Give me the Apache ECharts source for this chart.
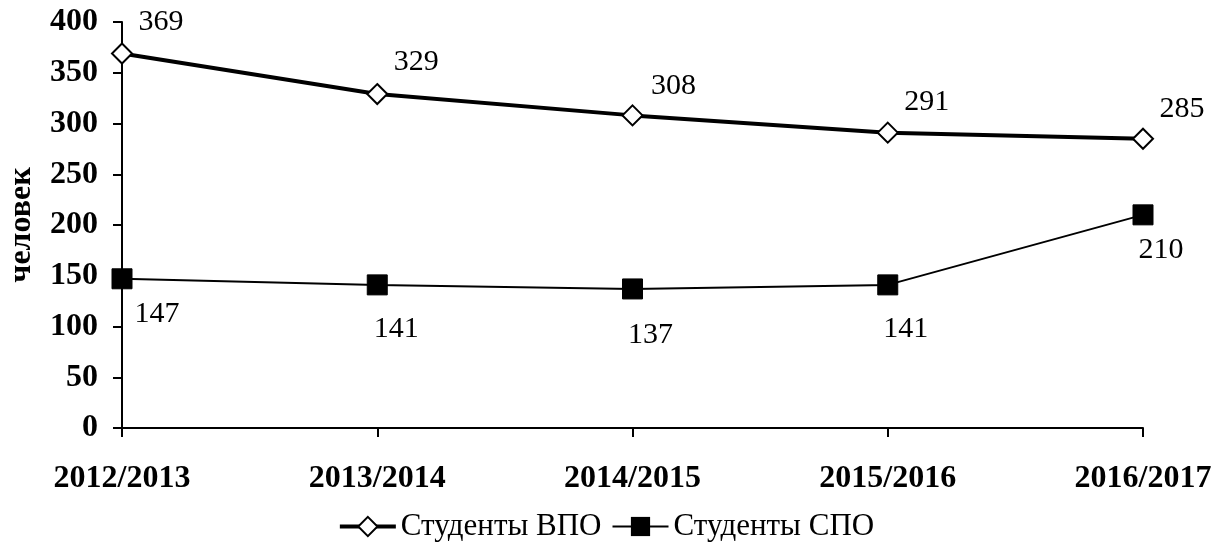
<!DOCTYPE html>
<html><head><meta charset="utf-8">
<script src="https://cdn.jsdelivr.net/npm/echarts@6/dist/echarts.min.js"></script>
<style>html,body{margin:0;padding:0;background:#fff}#c{width:1212px;height:551px}</style>
</head><body><div id="c"></div>
<script>
const categories = ['2012/2013','2013/2014','2014/2015','2015/2016','2016/2017'];
const vpo = [369, 329, 308, 291, 285];
const spo = [147, 141, 137, 141, 210];
const yTicks = [0, 50, 100, 150, 200, 250, 300, 350, 400];

const FONT = '"Liberation Serif", "Times New Roman", serif';
const vpoOffsets = [[39,0],[39,-1],[41,2],[39,0],[39,1]];
const spoOffsets = [[35,-2],[19,7],[18,9],[18,7],[18,-2]];

const chart = echarts.init(document.getElementById('c'));
chart.setOption({
  animation: false,
  textStyle: {fontFamily: FONT, color: '#000'},
  grid: {left: 122, right: 69, top: 22, bottom: 123, containLabel: false, outerBoundsMode: 'none'},
  legend: {
    bottom: 4, left: 'center', itemWidth: 56, itemHeight: 24, itemGap: 10,
    textStyle: {fontFamily: FONT, fontSize: 31, color: '#000'},
    data: [
      {name: 'Студенты ВПО', lineStyle: {width: 4, color: '#000'}},
      {name: 'Студенты СПО', lineStyle: {width: 2, color: '#000'}}
    ]
  },
  xAxis: {
    type: 'category', data: categories, boundaryGap: false,
    axisLine: {lineStyle: {color: '#000', width: 2}},
    axisTick: {show: true, alignWithLabel: true, length: 9, lineStyle: {color: '#000', width: 2}},
    axisLabel: {fontFamily: FONT, fontSize: 32, fontWeight: 'bold', color: '#000', margin: 35}
  },
  yAxis: {
    type: 'value', min: yTicks[0], max: yTicks[yTicks.length-1], interval: 50,
    name: 'человек', nameLocation: 'middle', nameGap: 84, nameRotate: 90,
    nameTextStyle: {fontFamily: FONT, fontSize: 32, fontWeight: 'bold', color: '#000'},
    axisLine: {show: true, lineStyle: {color: '#000', width: 2}},
    axisTick: {show: true, length: 9, lineStyle: {color: '#000', width: 2}},
    splitLine: {show: false},
    axisLabel: {fontFamily: FONT, fontSize: 32, fontWeight: 'bold', color: '#000', margin: 24}
  },
  series: [
    {
      name: 'Студенты ВПО', type: 'line',
      data: vpo.map((v, i) => ({value: v, label: {offset: vpoOffsets[i]}})),
      symbol: 'diamond', symbolSize: 20,
      lineStyle: {color: '#000', width: 4},
      itemStyle: {color: '#fff', borderColor: '#000', borderWidth: 2},
      label: {show: true, position: 'top', distance: 5, fontFamily: FONT, fontSize: 30, color: '#000'},
      z: 3
    },
    {
      name: 'Студенты СПО', type: 'line',
      data: spo.map((v, i) => ({value: v, label: {offset: spoOffsets[i]}})),
      symbol: 'rect', symbolSize: 20,
      lineStyle: {color: '#000', width: 2},
      itemStyle: {color: '#000', borderColor: '#000'},
      label: {show: true, position: 'bottom', distance: 12, fontFamily: FONT, fontSize: 30, color: '#000'},
      z: 2
    }
  ]
});
</script></body></html>
